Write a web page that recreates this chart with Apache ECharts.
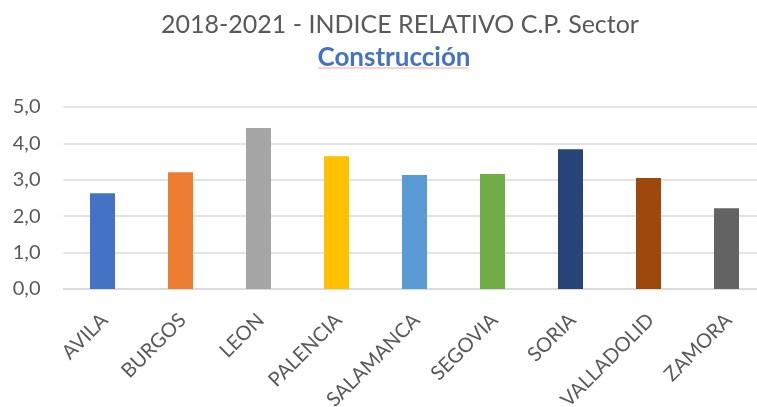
<!DOCTYPE html>
<html>
<head>
<meta charset="utf-8">
<script src="https://cdn.jsdelivr.net/npm/echarts@6/dist/echarts.min.js"></script>
<style>
  html, body { margin: 0; padding: 0; background: #fff; }
  #chart { width: 757px; height: 407px; }
</style>
</head>
<body>
<div id="chart"></div>
<script>
// datos
const provincias = ["AVILA", "BURGOS", "LEON", "PALENCIA", "SALAMANCA", "SEGOVIA", "SORIA", "VALLADOLID", "ZAMORA"];
const indice = [2.63, 3.21, 4.42, 3.65, 3.13, 3.16, 3.84, 3.05, 2.22];
const colores = ["#4472C4", "#ED7D31", "#A5A5A5", "#FFC000", "#5B9BD5", "#70AD47", "#264478", "#9E480E", "#636363"];

const fuente = "Lato";
const chart = echarts.init(document.getElementById("chart"));

let option = {
  animation: false,
  title: [
    {
      text: "2018-2021 - INDICE RELATIVO C.P. Sector",
      left: 395,
      top: 7,
      textAlign: "center",
      textStyle: { fontFamily: fuente, fontSize: 25, fontWeight: "normal", color: "#595959" },
    },
    {
      text: "Construcción",
      left: 389,
      top: 40,
      textAlign: "center",
      textStyle: { fontFamily: fuente, fontSize: 26, fontWeight: "bold", color: "#4472C4" },
    },
  ],
  graphic: [
    {
      type: "line",
      shape: { x1: 318, y1: 68, x2: 468, y2: 68 },
      style: { stroke: "#F2A6A6", lineWidth: 1 },
    },
  ],
  grid: {
    left: 63.5,
    right: -8.5,
    top: 107,
    bottom: 118,
    outerBoundsMode: "none",
    containLabel: false,
  },
  xAxis: {
    type: "category",
    data: provincias,
    axisLine: { lineStyle: { color: "#D9D9D9", width: 1.5 } },
    axisTick: { show: false },
    axisLabel: {
      rotate: 45,
      margin: 30,
      padding: [0, -3, 0, 0],
      interval: 0,
      fontFamily: fuente,
      fontSize: 20,
      color: "#595959",
    },
  },
  yAxis: {
    type: "value",
    min: 0,
    max: 5,
    interval: 1,
    axisLine: { show: false },
    axisTick: { show: false },
    splitLine: { lineStyle: { color: "#D9D9D9", width: 1.5 } },
    axisLabel: {
      margin: 23,
      fontFamily: fuente,
      fontSize: 20,
      color: "#595959",
      formatter: (v) => v.toFixed(1).replace(".", ","),
    },
  },
  series: [
    {
      type: "bar",
      barWidth: 25,
      data: indice.map((v, i) => ({ value: v, itemStyle: { color: colores[i] } })),
    },
  ],
};
chart.setOption(option);
</script>
</body>
</html>
